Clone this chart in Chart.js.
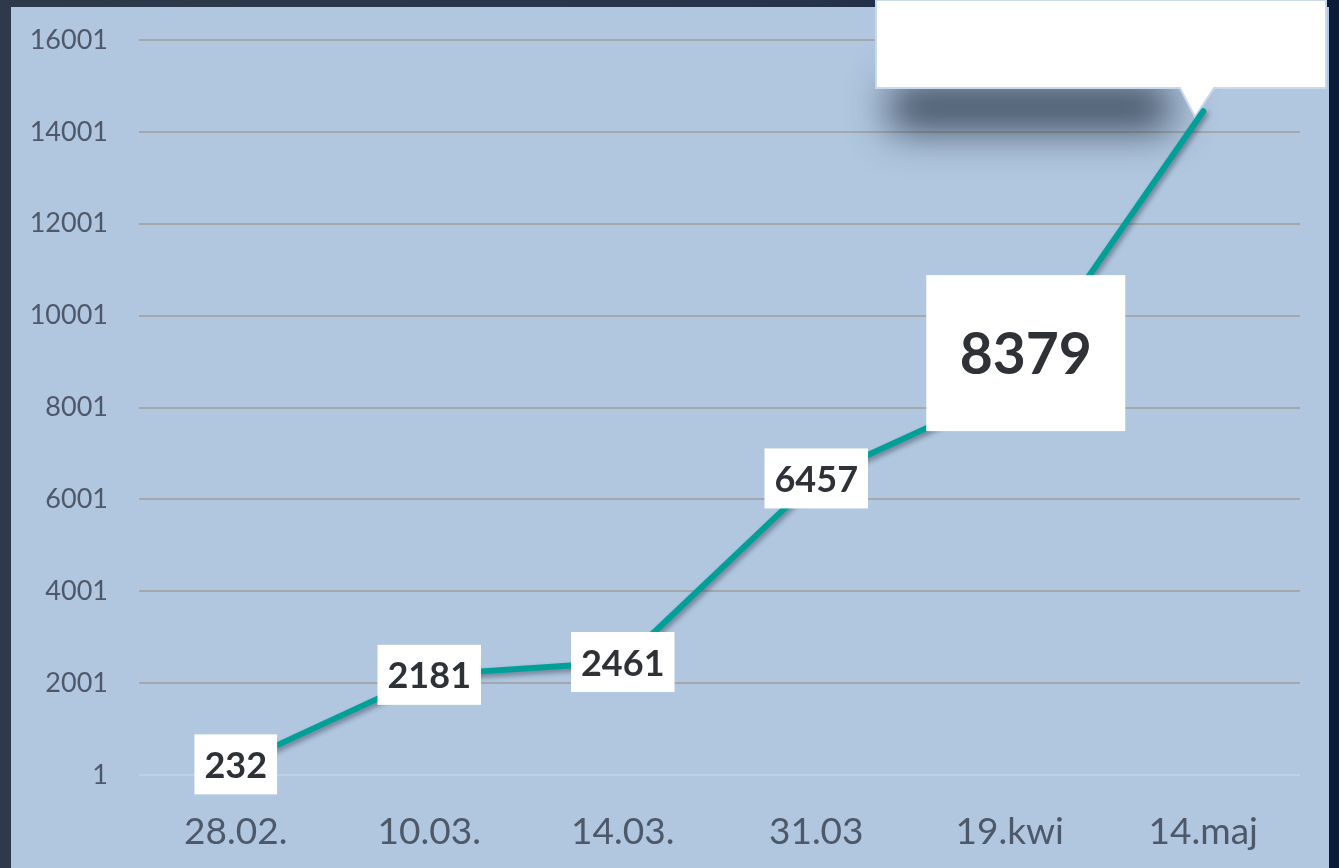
<!DOCTYPE html>
<html>
<head>
<meta charset="utf-8">
<script src="https://cdn.jsdelivr.net/npm/chart.js@4"></script>
<style>
  html, body { margin: 0; padding: 0; background: #2c3849; }
  #wrap { position: absolute; left: 0; top: 0; width: 1339px; height: 868px; }
</style>
</head>
<body>
<div id="wrap"><canvas id="chart-cases"></canvas></div>
<script>
// values
const dates = ['28.02.', '10.03.', '14.03.', '31.03', '19.kwi', '14.maj'];
const cases = [232, 2181, 2461, 6457, 8379, 14450];
const y_ticks = [1, 2001, 4001, 6001, 8001, 10001, 12001, 14001, 16001];

//page and panel background
const background_plugin = {
    id: 'panelBg',
    beforeDraw(chart) {
        const ctx = chart.ctx;
        ctx.save();
        let g = ctx.createLinearGradient(0, 0, chart.width, 0);
        g.addColorStop(0, '#2e3a4b');
        g.addColorStop(0.6, '#26334a');
        g.addColorStop(1, '#0b1b38');
        ctx.fillStyle = g;
        ctx.fillRect(0, 0, chart.width, chart.height);
        ctx.fillStyle = '#b0c7df';
        ctx.fillRect(11, 7, 1318, 861);
        ctx.restore();
    }
};

//speech bubble at the top right (its text is cut off in the picture)
const callout_plugin = {
    id: 'callout',
    beforeDatasetsDraw(chart) {
        const ctx = chart.ctx;
        ctx.save();
        // blurry shadow under the bubble
        ctx.shadowColor = 'rgba(40,52,70,0.85)';
        ctx.shadowBlur = 40;
        ctx.shadowOffsetY = 2000;
        ctx.fillStyle = '#000';
        ctx.fillRect(890, 84 - 2000, 280, 46);
        ctx.restore();

        ctx.save();
        ctx.beginPath();
        ctx.moveTo(876, 0);
        ctx.lineTo(1326, 0);
        ctx.lineTo(1326, 88);
        ctx.lineTo(1214, 88);
        ctx.lineTo(1195, 117);
        ctx.lineTo(1180, 88);
        ctx.lineTo(876, 88);
        ctx.closePath();
        ctx.fillStyle = '#ffffff';
        ctx.fill();
        ctx.strokeStyle = '#c9d8ea';
        ctx.lineWidth = 2;
        ctx.stroke();
        ctx.restore();
    }
};

//soft shadow behind the line
const line_shadow_plugin = {
    id: 'lineShadow',
    beforeDatasetDraw(chart) {
        const ctx = chart.ctx;
        ctx.save();
        ctx.shadowColor = 'rgba(30,40,60,0.45)';
        ctx.shadowBlur = 5;
        ctx.shadowOffsetX = 2;
        ctx.shadowOffsetY = 3;
    },
    afterDatasetDraw(chart) {
        chart.ctx.restore();
    }
};

//white boxed value labels
const box_label_plugin = {
    id: 'boxLabels',
    afterDatasetsDraw(chart, args, opts) {
        const ctx = chart.ctx;
        const meta = chart.getDatasetMeta(0);
        meta.data.forEach((pt, i) => {
            if(i === opts.skip) return;
            const big = i === opts.big.index;
            const size = big ? opts.big.size : opts.size;
            const txt = String(cases[i]);
            ctx.save();
            ctx.font = 'bold ' + size + 'px Lato';
            const w = big ? opts.big.w : ctx.measureText(txt).width + 2*opts.padX;
            const h = big ? opts.big.h : opts.h;
            const cx = pt.x + (big ? opts.big.dx : 0);
            const cy = pt.y + (big ? opts.big.dy : 0);
            ctx.fillStyle = '#ffffff';
            ctx.fillRect(cx - w/2, cy - h/2, w, h);
            ctx.fillStyle = '#2e3237';
            ctx.textAlign = 'center';
            ctx.textBaseline = 'middle';
            ctx.fillText(txt, cx, cy + 2);
            ctx.restore();
        });
    }
};

const chart = new Chart(document.getElementById('chart-cases').getContext('2d'), {
    type: 'line',
    data: {
        labels: dates,
        datasets: [{
            data: cases,
            borderColor: '#00a099',
            borderWidth: 6,
            borderCapStyle: 'round',
            pointRadius: 0,
            tension: 0
        }]
    },
    options: {
        responsive: true,
        maintainAspectRatio: false,
        animation: false,
        layout: {padding: {left: 0, top: 40, right: 39, bottom: 0}},
        plugins: {
            legend: {display: false},
            tooltip: {enabled: false},
            boxLabels: {
                skip: 5,
                size: 36,
                padX: 10,
                h: 60,
                big: {index: 4, size: 57, w: 199, h: 156, dx: 16, dy: -37}
            }
        },
        scales: {
            x: {
                offset: true,
                grid: {display: false, drawTicks: false},
                border: {display: false},
                ticks: {
                    color: '#4d5869',
                    font: {family: 'Lato', size: 37},
                    padding: 35,
                    maxRotation: 0
                },
                afterFit: (s) => { s.height = 93; }
            },
            y: {
                min: 1,
                max: 16001,
                grid: {
                    drawTicks: true,
                    tickLength: 31,
                    tickColor: 'rgba(0,0,0,0)',
                    lineWidth: 2,
                    color: (c) => c.index === 0 ? '#bdd0e4' : '#a4a8ad'
                },
                border: {display: false},
                ticks: {
                    color: '#4f5868',
                    font: {family: 'Lato', size: 27},
                    padding: 0,
                    callback: (v) => String(v)
                },
                afterBuildTicks: (s) => { s.ticks = y_ticks.map((v) => ({value: v})); },
                afterFit: (s) => { s.width = 139; }
            }
        }
    },
    plugins: [background_plugin, callout_plugin, line_shadow_plugin, box_label_plugin]
});
</script>
</body>
</html>
